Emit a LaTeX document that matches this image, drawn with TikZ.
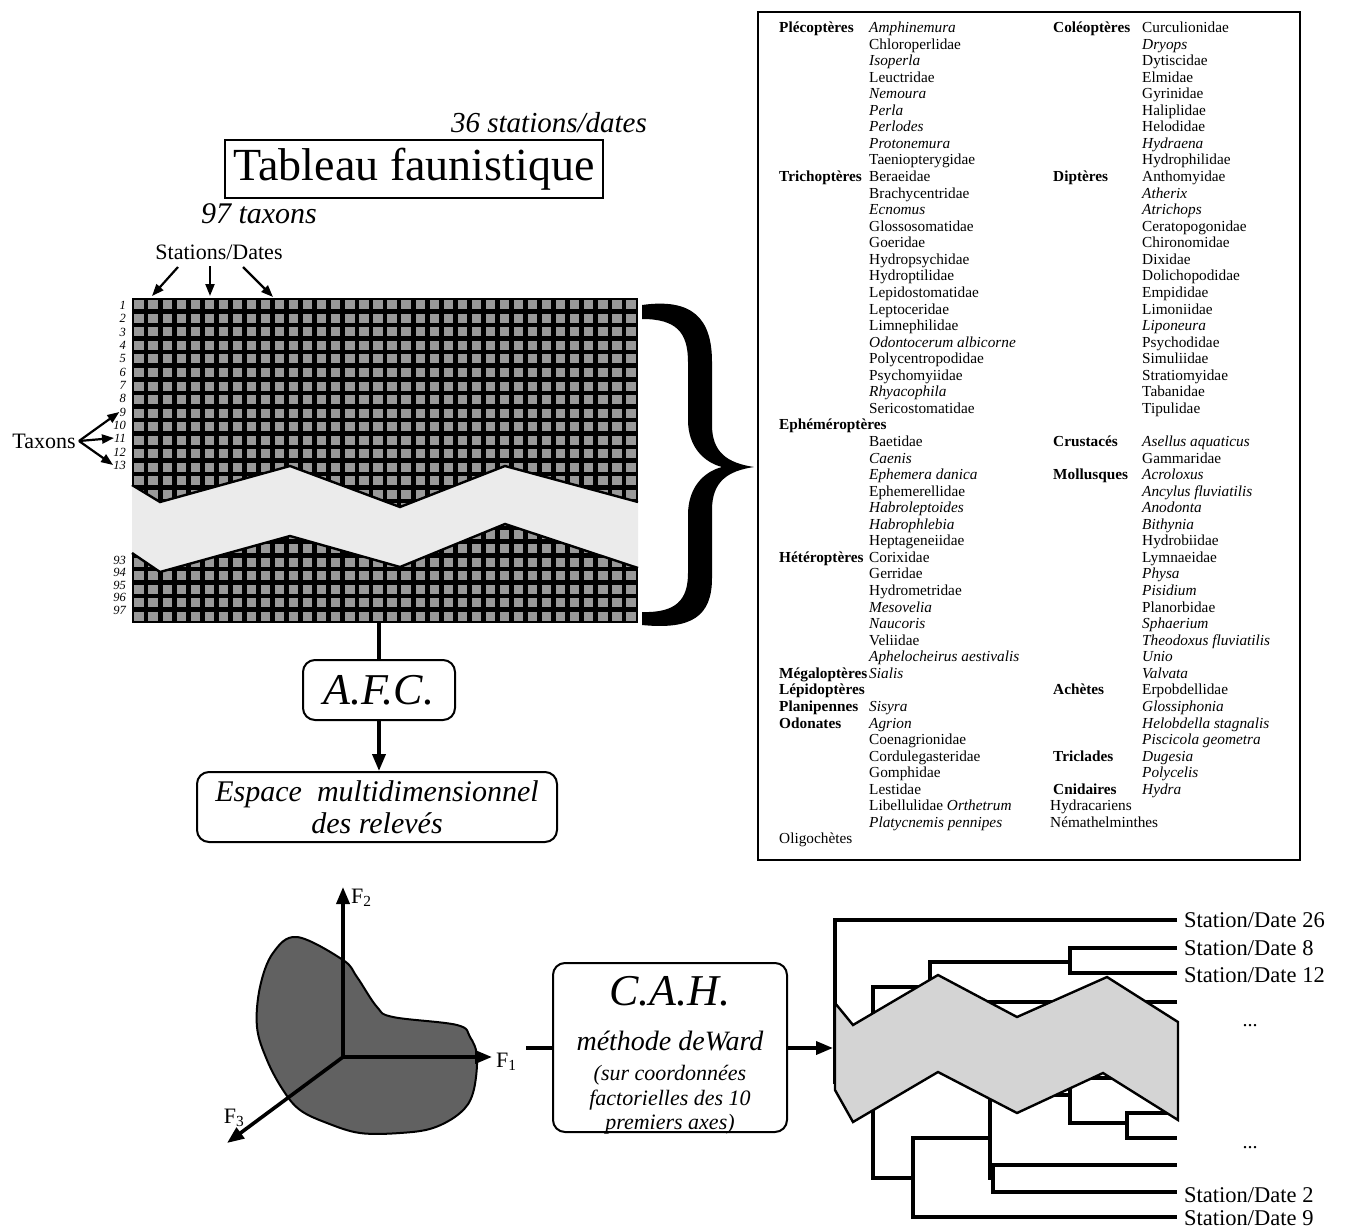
\documentclass[tikz,border=0pt]{standalone}
\usepackage{fontspec}
\setmainfont{Liberation Serif}
\usetikzlibrary{arrows.meta}
\newcommand\TaxG[4]{\node[tx,font=\fontsize{15.3}{16}\selectfont\bfseries] (#1) at (#2,{32.5+16.56*#3}) {#4};}
\newcommand\TaxT[4]{\node[tx] (#1) at (#2,{32.5+16.56*#3}) {#4};}
\begin{document}
\begin{tikzpicture}[x=1pt,y=-1pt,
  tx/.style={anchor=base west,inner sep=0pt,font=\fontsize{15.3}{16}\selectfont},
  rowlab/.style={anchor=east,inner sep=0pt,font=\fontsize{12.5}{12.5}\selectfont\itshape},
  arr/.style={line width=3.6pt,-{Triangle[length=17pt,width=13pt]}},
  thinarr/.style={line width=2.2pt,-{Triangle[length=12pt,width=9pt]}},
  rbox/.style={draw,line width=2pt,rounded corners=12pt,align=center,inner sep=2pt},
  dendro/.style={line width=3.8pt},
  cellfill/.style={fill=black!40},
  bandfill/.style={fill=black!8},
  dbandfill/.style={fill=black!17},
  edge/.style={line width=2.4pt}
]
\useasboundingbox (0,0) rectangle (1347,1231);

% ---------- title block ----------
\node[font=\fontsize{29}{30}\selectfont\itshape,inner sep=0] (nst) at (549,123) {36 stations/dates};
\node[draw,line width=1.5pt,minimum width=378,minimum height=58,inner sep=0,font=\fontsize{46}{48}\selectfont] (tab) at (414,169) {Tableau faunistique};
\node[font=\fontsize{30}{30}\selectfont\itshape,inner sep=0] (ntx) at (259,214) {97 taxons};
\node[font=\fontsize{22}{22}\selectfont,inner sep=0] (sd) at (219,252) {Stations/Dates};

% ---------- grid ----------
\node[fill=black,inner sep=0,minimum width=506,minimum height=325] (grid) at (385,460.5) {};
\foreach \i in {0,...,35}{\foreach \j in {0,...,23}{
  \fill[cellfill] ({132+14.056*\i+2.4},{298+13.54*\j+2.3}) rectangle ++(9.3,9);}}
\fill[bandfill] (132,485) -- (160,502) -- (290,466) -- (400,507) -- (505,466) -- (638,502)
  -- (638,568) -- (505,524) -- (400,567) -- (290,536) -- (160,572) -- (132,553) -- cycle;
\draw[edge] (132,485) -- (160,502) -- (290,466) -- (400,507) -- (505,466) -- (638,502);
\draw[edge] (638,568) -- (505,524) -- (400,567) -- (290,536) -- (160,572) -- (132,553);

\coordinate (sa1) at (152,296);
\coordinate (sa2) at (210,296);
\coordinate (sa3) at (273,297);
\draw[thinarr] (178,267) -- (sa1);
\draw[thinarr] (210,266) -- (sa2);
\draw[thinarr] (243,267) -- (sa3);

% row labels
\foreach \n/\y in {1/305,2/318,3/332,4/345,5/358,6/372,7/385,8/398,9/412,10/425,11/438,12/452,13/465,93/560,94/572.5,95/585,96/597.5,97/610}
  \node[rowlab] (l\n) at (126,\y) {\n};

\node[font=\fontsize{22}{22}\selectfont,inner sep=0] (taxons) at (44,441) {Taxons};
\coordinate (tstart) at (79,441);
\draw[thinarr] (tstart) -- (l9.west);
\draw[thinarr] (tstart) -- (l11.west);
\draw[thinarr] (tstart) -- (l13.west);

% brace
\fill (642,305) .. controls (692,298) and (712,318) .. (712,362) -- (712,425)
  .. controls (712,452) and (727,463) .. (754,467)
  .. controls (727,471) and (712,482) .. (712,510) -- (712,578)
  .. controls (712,616) and (692,630) .. (642,625) -- (642,612)
  .. controls (676,613) and (688,600) .. (688,573) -- (688,515)
  .. controls (688,488) and (703,472) .. (722,467)
  .. controls (703,462) and (688,446) .. (688,420) -- (688,362)
  .. controls (688,332) and (676,319) .. (642,319) -- cycle;

% ---------- AFC ----------
\node[rbox,minimum width=152,minimum height=60,font=\fontsize{44}{44}\selectfont\itshape] (afc) at (379,690) {A.F.C.};
\node[rbox,minimum width=360,minimum height=70,font=\fontsize{30}{32}\selectfont\itshape] (esp) at (377,807) {Espace\ \ multidimensionnel\\des relevés};
\draw[line width=3.4pt] (grid.south -| afc.north) -- (afc.north);
\draw[arr] (afc.south) -- (afc.south |- esp.north);

% ---------- taxa list ----------
\node[draw,line width=1.6pt,minimum width=542,minimum height=848,inner sep=0] (tbox) at (1029,436) {};
\TaxG{ga0}{779}{0}{Plécoptères}
\TaxT{ta0}{869}{0}{\textit{Amphinemura}}
\TaxT{ta1}{869}{1}{Chloroperlidae}
\TaxT{ta2}{869}{2}{\textit{Isoperla}}
\TaxT{ta3}{869}{3}{Leuctridae}
\TaxT{ta4}{869}{4}{\textit{Nemoura}}
\TaxT{ta5}{869}{5}{\textit{Perla}}
\TaxT{ta6}{869}{6}{\textit{Perlodes}}
\TaxT{ta7}{869}{7}{\textit{Protonemura}}
\TaxT{ta8}{869}{8}{Taeniopterygidae}
\TaxG{ga9}{779}{9}{Trichoptères}
\TaxT{ta9}{869}{9}{Beraeidae}
\TaxT{ta10}{869}{10}{Brachycentridae}
\TaxT{ta11}{869}{11}{\textit{Ecnomus}}
\TaxT{ta12}{869}{12}{Glossosomatidae}
\TaxT{ta13}{869}{13}{Goeridae}
\TaxT{ta14}{869}{14}{Hydropsychidae}
\TaxT{ta15}{869}{15}{Hydroptilidae}
\TaxT{ta16}{869}{16}{Lepidostomatidae}
\TaxT{ta17}{869}{17}{Leptoceridae}
\TaxT{ta18}{869}{18}{Limnephilidae}
\TaxT{ta19}{869}{19}{\textit{Odontocerum albicorne}}
\TaxT{ta20}{869}{20}{Polycentropodidae}
\TaxT{ta21}{869}{21}{Psychomyiidae}
\TaxT{ta22}{869}{22}{\textit{Rhyacophila}}
\TaxT{ta23}{869}{23}{Sericostomatidae}
\TaxG{ga24}{779}{24}{Ephéméroptères}
\TaxT{ta25}{869}{25}{Baetidae}
\TaxT{ta26}{869}{26}{\textit{Caenis}}
\TaxT{ta27}{869}{27}{\textit{Ephemera danica}}
\TaxT{ta28}{869}{28}{Ephemerellidae}
\TaxT{ta29}{869}{29}{\textit{Habroleptoides}}
\TaxT{ta30}{869}{30}{\textit{Habrophlebia}}
\TaxT{ta31}{869}{31}{Heptageneiidae}
\TaxG{ga32}{779}{32}{Hétéroptères}
\TaxT{ta32}{869}{32}{Corixidae}
\TaxT{ta33}{869}{33}{Gerridae}
\TaxT{ta34}{869}{34}{Hydrometridae}
\TaxT{ta35}{869}{35}{\textit{Mesovelia}}
\TaxT{ta36}{869}{36}{\textit{Naucoris}}
\TaxT{ta37}{869}{37}{Veliidae}
\TaxT{ta38}{869}{38}{\textit{Aphelocheirus aestivalis}}
\TaxG{ga39}{779}{39}{Mégaloptères}
\TaxT{ta39}{869}{39}{\textit{Sialis}}
\TaxG{ga40}{779}{40}{Lépidoptères}
\TaxG{ga41}{779}{41}{Planipennes}
\TaxT{ta41}{869}{41}{\textit{Sisyra}}
\TaxG{ga42}{779}{42}{Odonates}
\TaxT{ta42}{869}{42}{\textit{Agrion}}
\TaxT{ta43}{869}{43}{Coenagrionidae}
\TaxT{ta44}{869}{44}{Cordulegasteridae}
\TaxT{ta45}{869}{45}{Gomphidae}
\TaxT{ta46}{869}{46}{Lestidae}
\TaxT{ta47}{869}{47}{Libellulidae \textit{Orthetrum}}
\TaxT{ta48}{869}{48}{\textit{Platycnemis pennipes}}
\TaxT{ga49}{779}{49}{Oligochètes}

\TaxG{gb0}{1053}{0}{Coléoptères}
\TaxT{tb0}{1142}{0}{Curculionidae}
\TaxT{tb1}{1142}{1}{\textit{Dryops}}
\TaxT{tb2}{1142}{2}{Dytiscidae}
\TaxT{tb3}{1142}{3}{Elmidae}
\TaxT{tb4}{1142}{4}{Gyrinidae}
\TaxT{tb5}{1142}{5}{Haliplidae}
\TaxT{tb6}{1142}{6}{Helodidae}
\TaxT{tb7}{1142}{7}{\textit{Hydraena}}
\TaxT{tb8}{1142}{8}{Hydrophilidae}
\TaxG{gb9}{1053}{9}{Diptères}
\TaxT{tb9}{1142}{9}{Anthomyidae}
\TaxT{tb10}{1142}{10}{\textit{Atherix}}
\TaxT{tb11}{1142}{11}{\textit{Atrichops}}
\TaxT{tb12}{1142}{12}{Ceratopogonidae}
\TaxT{tb13}{1142}{13}{Chironomidae}
\TaxT{tb14}{1142}{14}{Dixidae}
\TaxT{tb15}{1142}{15}{Dolichopodidae}
\TaxT{tb16}{1142}{16}{Empididae}
\TaxT{tb17}{1142}{17}{Limoniidae}
\TaxT{tb18}{1142}{18}{\textit{Liponeura}}
\TaxT{tb19}{1142}{19}{Psychodidae}
\TaxT{tb20}{1142}{20}{Simuliidae}
\TaxT{tb21}{1142}{21}{Stratiomyidae}
\TaxT{tb22}{1142}{22}{Tabanidae}
\TaxT{tb23}{1142}{23}{Tipulidae}
\TaxG{gb25}{1053}{25}{Crustacés}
\TaxT{tb25}{1142}{25}{\textit{Asellus aquaticus}}
\TaxT{tb26}{1142}{26}{Gammaridae}
\TaxG{gb27}{1053}{27}{Mollusques}
\TaxT{tb27}{1142}{27}{\textit{Acroloxus}}
\TaxT{tb28}{1142}{28}{\textit{Ancylus fluviatilis}}
\TaxT{tb29}{1142}{29}{\textit{Anodonta}}
\TaxT{tb30}{1142}{30}{\textit{Bithynia}}
\TaxT{tb31}{1142}{31}{Hydrobiidae}
\TaxT{tb32}{1142}{32}{Lymnaeidae}
\TaxT{tb33}{1142}{33}{\textit{Physa}}
\TaxT{tb34}{1142}{34}{\textit{Pisidium}}
\TaxT{tb35}{1142}{35}{Planorbidae}
\TaxT{tb36}{1142}{36}{\textit{Sphaerium}}
\TaxT{tb37}{1142}{37}{\textit{Theodoxus fluviatilis}}
\TaxT{tb38}{1142}{38}{\textit{Unio}}
\TaxT{tb39}{1142}{39}{\textit{Valvata}}
\TaxG{gb40}{1053}{40}{Achètes}
\TaxT{tb40}{1142}{40}{Erpobdellidae}
\TaxT{tb41}{1142}{41}{\textit{Glossiphonia}}
\TaxT{tb42}{1142}{42}{\textit{Helobdella stagnalis}}
\TaxT{tb43}{1142}{43}{\textit{Piscicola geometra}}
\TaxG{gb44}{1053}{44}{Triclades}
\TaxT{tb44}{1142}{44}{\textit{Dugesia}}
\TaxT{tb45}{1142}{45}{\textit{Polycelis}}
\TaxG{gb46}{1053}{46}{Cnidaires}
\TaxT{tb46}{1142}{46}{\textit{Hydra}}
\TaxT{gb47}{1050}{47}{Hydracariens}
\TaxT{gb48}{1050}{48}{Némathelminthes}

% ---------- factorial space ----------
\filldraw[fill=black!62,draw=black,line width=2pt] plot[smooth cycle,tension=0.6] coordinates {
  (297,937) (343,960) (357,977) (377,1007) (393,1017) (457,1025) (470,1037) (477,1057)
  (473,1093) (460,1113) (433,1128) (400,1133) (360,1133) (327,1123) (300,1110)
  (283,1090) (267,1060) (257,1027) (260,987) (273,953)};
\coordinate (o) at (343,1057);
\coordinate (f2) at (343,887);
\coordinate (f1) at (492,1057);
\coordinate (f3) at (227,1143);
\draw[arr] (o) -- (f2);
\draw[arr] (o) -- (f1);
\draw[arr] (o) -- (f3);
\node[font=\fontsize{22}{22}\selectfont,inner sep=0,anchor=west] (lf2) at (351,898) {F\textsubscript{2}};
\node[font=\fontsize{22}{22}\selectfont,inner sep=0,anchor=west] (lf1) at (496,1062) {F\textsubscript{1}};
\node[font=\fontsize{22}{22}\selectfont,inner sep=0] (lf3) at (234,1118) {F\textsubscript{3}};

% ---------- CAH ----------
\node[rbox,minimum width=234,minimum height=169] (cah) at (670,1047.5) {};
\node[font=\fontsize{44}{44}\selectfont\itshape,inner sep=0,anchor=base] (cahT) at (670,1005) {C.A.H.};
\node[font=\fontsize{28}{28}\selectfont\itshape,inner sep=0,anchor=base] (cahW) at (670,1050) {méthode deWard};
\node[font=\fontsize{22}{22}\selectfont\itshape,inner sep=0,anchor=base] (cahS1) at (670,1080) {(sur coordonnées};
\node[font=\fontsize{22}{22}\selectfont\itshape,inner sep=0,anchor=base] (cahS2) at (670,1105) {factorielles des 10};
\node[font=\fontsize{22}{22}\selectfont\itshape,inner sep=0,anchor=base] (cahS3) at (670,1129) {premiers axes)};
\coordinate (axout) at (526,1048);
\coordinate (dIn) at (833,1048);
\draw[line width=3.6pt] (axout) -- (axout -| cah.west);
\draw[arr] (dIn -| cah.east) -- (dIn);

% ---------- dendrogram ----------
\draw[dendro] (1177,920) -- (835,920) -- (835,1082) -- (873,1082);
\draw[dendro] (930,987) -- (873,987) -- (873,1178) -- (913,1178);
\draw[dendro] (1070,962) -- (930,962) -- (930,1012) -- (985,1012);
\draw[dendro] (1177,948) -- (1070,948) -- (1070,973) -- (1177,973);
\draw[dendro] (1177,1002) -- (985,1002) -- (985,1022) -- (1177,1022);
\draw[dendro] (990,1138) -- (913,1138) -- (913,1217) -- (1177,1217);
\draw[dendro] (1070,1095) -- (990,1095) -- (990,1178) -- (993,1178);
\draw[dendro] (1177,1165) -- (993,1165) -- (993,1192) -- (1177,1192);
\draw[dendro] (1093,1067) -- (1070,1067) -- (1070,1123) -- (1127,1123);
\draw[dendro] (1177,1057) -- (1093,1057) -- (1093,1078) -- (1177,1078);
\draw[dendro] (1177,1113) -- (1127,1113) -- (1127,1138) -- (1177,1138);
\filldraw[dbandfill,draw=black,line width=2.4pt] (835,1003) -- (853,1025) -- (938,975) -- (1017,1017)
  -- (1107,977) -- (1178,1022) -- (1178,1120) -- (1103,1073) -- (1017,1113) -- (938,1072)
  -- (853,1122) -- (835,1090) -- cycle;

\foreach \nm/\y/\t in {s26/920/26,s8/948/8,s12/975/12,s2/1195/2,s9/1218/9}
  \node[font=\fontsize{22.5}{22.5}\selectfont,inner sep=0,anchor=west] (\nm) at (1184,\y) {Station/Date \t};
\node[font=\fontsize{20}{20}\selectfont,inner sep=0] (dots1) at (1250,1026) {...};
\node[font=\fontsize{20}{20}\selectfont,inner sep=0] (dots2) at (1250,1148) {...};
\end{tikzpicture}
\end{document}
